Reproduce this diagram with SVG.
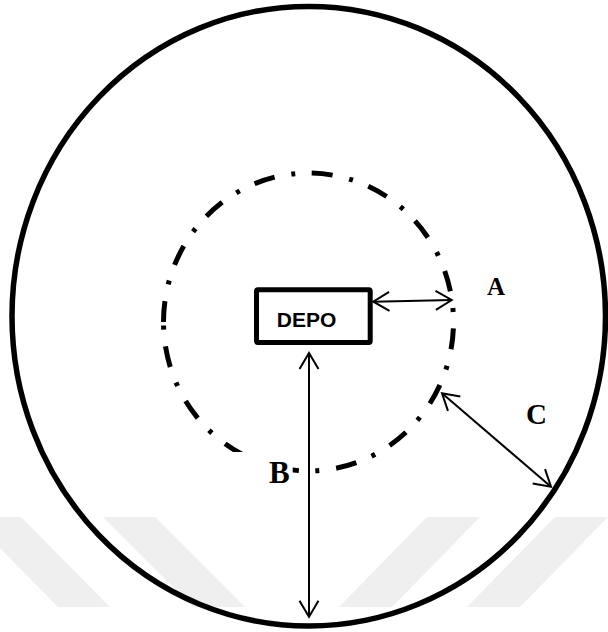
<svg xmlns="http://www.w3.org/2000/svg" width="608" height="632" viewBox="0 0 608 632">
  <style>
    .wm { fill: #efefef; stroke: none; }
    .outer { fill: none; stroke: #000; stroke-width: 5.5; }
    .zone { fill: none; stroke: #000; stroke-width: 5; stroke-dasharray: 21 17 4 16.5; }
    .box { fill: #fff; stroke: #000; stroke-width: 5; }
    .conn { fill: none; stroke: #000; stroke-width: 2; marker-start: url(#ah); marker-end: url(#ah); }
    .lbl { font-family: "Liberation Serif", "Times New Roman", serif; font-weight: 700; fill: #000; }
    .depo { font-family: "Liberation Sans", Arial, sans-serif; font-weight: 700; font-size: 21px; fill: #000; }
  </style>
  <defs>
    <marker id="ah" viewBox="-20 -12 25 24" refX="0" refY="0" markerWidth="25" markerHeight="24" markerUnits="userSpaceOnUse" orient="auto-start-reverse">
      <path d="M-16,-9.5 L0,0 L-16,9.5" fill="none" stroke="#000" stroke-width="2"/>
    </marker>
  </defs>
  <rect width="608" height="632" fill="#fff"/>
  <g id="watermark">
    <polygon class="wm" points="-31,517 21,517 110,607 58,607"/>
    <polygon class="wm" points="103,517 155,517 245,607 193,607"/>
    <polygon class="wm" points="427,517 480,517 392,607 339,607"/>
    <polygon class="wm" points="555,517 608,517 520,607 467,607"/>
  </g>
  <g id="outer-area">
    <ellipse class="outer" cx="308.75" cy="316.2" rx="296.75" ry="309.8"/>
  </g>
  <g id="inner-zone">
    <path class="zone" d="M163.5,322 A145,149 0 0 1 453.5,322 A145,149 0 0 1 163.5,322 Z"/>
  </g>
  <g id="depo">
    <rect class="box" x="256.5" y="289.8" width="113.7" height="52.7" rx="1.5"/>
    <text class="depo" x="306.5" y="326.7" text-anchor="middle">DEPO</text>
  </g>
  <g id="connectors">
    <line class="conn" x1="373.3" y1="301.7" x2="451.7" y2="300"/>
    <line class="conn" x1="309" y1="353" x2="309" y2="616.7"/>
    <line class="conn" x1="442" y1="393.3" x2="551" y2="486.7"/>
  </g>
  <g id="label-A">
    <text class="lbl" x="496" y="295" font-size="25" text-anchor="middle">A</text>
  </g>
  <g id="label-B">
    <rect x="200" y="452" width="92.7" height="40" fill="#fff"/>
    <text class="lbl" x="279.3" y="482.7" font-size="31" text-anchor="middle">B</text>
  </g>
  <g id="label-C">
    <text class="lbl" x="536.5" y="423.5" font-size="29" text-anchor="middle">C</text>
  </g>
</svg>
